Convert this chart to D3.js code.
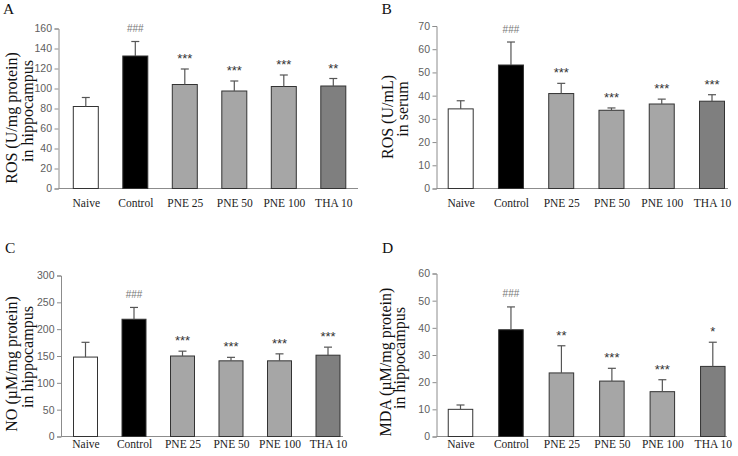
<!DOCTYPE html>
<html><head><meta charset="utf-8">
<script src="https://cdn.jsdelivr.net/npm/d3@7/dist/d3.min.js"></script>
<style>
html,body{margin:0;padding:0;background:#fff;}
svg{display:block;}
</style></head>
<body>
<svg id="chart" width="738" height="456"></svg>
<script>
// ---------- data ----------
const categories = ["Naive", "Control", "PNE 25", "PNE 50", "PNE 100", "THA 10"];
const barColors = ["#ffffff", "#000000", "#a6a6a6", "#a6a6a6", "#a6a6a6", "#7f7f7f"];

const rosHippoMean = [82, 132.5, 104, 97.5, 102, 102.5];
const rosHippoErr  = [9, 14.5, 15.5, 10, 11.5, 7.5];
const rosHippoSig  = ["", "###", "***", "***", "***", "**"];
const rosHippoTicks = [0, 20, 40, 60, 80, 100, 120, 140, 160];

const rosSerumMean = [34.3, 53.2, 40.9, 33.7, 36.4, 37.6];
const rosSerumErr  = [3.5, 9.9, 4.4, 1.0, 2.1, 2.8];
const rosSerumSig  = ["", "###", "***", "***", "***", "***"];
const rosSerumTicks = [0, 10, 20, 30, 40, 50, 60, 70];

const noMean = [148, 218.5, 150, 141, 141, 151.5];
const noErr  = [27.5, 22, 9, 6.5, 13, 15];
const noSig  = ["", "###", "***", "***", "***", "***"];
const noTicks = [0, 50, 100, 150, 200, 250, 300];

const mdaMean = [10, 39.3, 23.4, 20.4, 16.5, 25.8];
const mdaErr  = [1.6, 8.4, 10, 4.7, 4.4, 8.9];
const mdaSig  = ["", "###", "**", "***", "***", "*"];
const mdaTicks = [0, 10, 20, 30, 40, 50, 60];

// ---------- layout (positions only) ----------
const panels = [
  {letter:"A", lx:3, ly:13.5, mean:rosHippoMean, err:rosHippoErr, sig:rosHippoSig, ticks:rosHippoTicks,
   title:["ROS (U/mg protein)", "in hippocampus"], tx:[17, 32.5], tc:[118, 111],
   ax0:58.5, ax1:358, y0:188.5, y1:28.5, c0:85.8, c1:333.3, bw:25, xl:207},
  {letter:"B", lx:381.5, ly:13.5, mean:rosSerumMean, err:rosSerumErr, sig:rosSerumSig, ticks:rosSerumTicks,
   title:["ROS (U/mL)", "in serum"], tx:[393, 408], tc:[117, 109],
   ax0:436.5, ax1:728, y0:188.5, y1:26, c0:460.7, c1:712, bw:25, xl:207},
  {letter:"C", lx:5, ly:253, mean:noMean, err:noErr, sig:noSig, ticks:noTicks,
   title:["NO (\u00b5M/mg protein)", "in hippocampus"], tx:[17, 32.5], tc:[364, 357],
   ax0:61, ax1:343, y0:436.5, y1:275.5, c0:85.5, c1:328, bw:24, xl:447.5},
  {letter:"D", lx:382, ly:253, mean:mdaMean, err:mdaErr, sig:mdaSig, ticks:mdaTicks,
   title:["MDA (\u00b5M/mg protein)", "in hippocampus"], tx:[391, 405], tc:[362, 358],
   ax0:436.5, ax1:727, y0:436.5, y1:273.5, c0:460.5, c1:712.8, bw:24.5, xl:447.5}
];

const svg = d3.select("#chart");
const axisColor = "#8c8c8c";
const serif = "'Liberation Serif','Times New Roman',serif";
const sans = "'Liberation Sans',Arial,sans-serif";

panels.forEach(p => {
  const g = svg.append("g");
  const y = d3.scaleLinear().domain([0, d3.max(p.ticks)]).range([p.y0, p.y1]);
  const x = d3.scalePoint().domain(categories).range([p.c0, p.c1]);

  // panel letter
  g.append("text").attr("x", p.lx).attr("y", p.ly).text(p.letter)
    .attr("font-family", serif).attr("font-size", 15.5).attr("fill", "#111");

  // y axis
  const yAxis = d3.axisLeft(y).tickValues(p.ticks).tickSize(4).tickPadding(2.5).tickFormat(d3.format("d"));
  const ya = g.append("g").attr("transform", `translate(${p.ax0},0)`).call(yAxis);
  ya.select(".domain").attr("stroke", axisColor);
  ya.selectAll(".tick line").attr("stroke", axisColor);
  ya.selectAll(".tick text").attr("fill", "#606060").attr("font-family", sans).attr("font-size", 10.5);

  // x axis baseline + category labels
  const xa = d3.axisBottom(x).tickSize(0).tickPadding(0);
  const xg = g.append("g").attr("transform", `translate(0,${p.y0})`).call(xa);
  xg.select(".domain").remove();
  g.append("line").attr("x1", p.ax0).attr("x2", p.ax1).attr("y1", p.y0).attr("y2", p.y0)
    .attr("stroke", axisColor);
  xg.selectAll(".tick text").attr("y", p.xl - p.y0).attr("dy", 0)
    .attr("fill", "#222").attr("font-family", serif).attr("font-size", 11.5);

  // bars
  g.selectAll("rect.bar").data(categories).join("rect").attr("class", "bar")
    .attr("x", d => x(d) - p.bw / 2)
    .attr("width", p.bw)
    .attr("y", (d, i) => y(p.mean[i]))
    .attr("height", (d, i) => y(0) - y(p.mean[i]))
    .attr("fill", (d, i) => barColors[i])
    .attr("stroke", "#333").attr("stroke-width", 1);

  // error bars (upper only)
  const eg = g.selectAll("g.err").data(categories).join("g").attr("class", "err");
  eg.append("line")
    .attr("x1", d => x(d)).attr("x2", d => x(d))
    .attr("y1", (d, i) => y(p.mean[i]))
    .attr("y2", (d, i) => y(p.mean[i] + p.err[i]))
    .attr("stroke", "#555").attr("stroke-width", 1.2);
  eg.append("line")
    .attr("x1", d => x(d) - 4).attr("x2", d => x(d) + 4)
    .attr("y1", (d, i) => y(p.mean[i] + p.err[i]))
    .attr("y2", (d, i) => y(p.mean[i] + p.err[i]))
    .attr("stroke", "#555").attr("stroke-width", 1.2);

  // significance marks
  g.selectAll("text.sig").data(categories).join("text").attr("class", "sig")
    .attr("x", d => x(d))
    .attr("y", (d, i) => y(p.mean[i] + p.err[i]) - (p.sig[i].startsWith("#") ? 9.5 : 6))
    .attr("text-anchor", "middle")
    .attr("font-family", sans).attr("font-size", (d, i) => p.sig[i].startsWith("#") ? 10 : 13)
    .attr("fill", (d, i) => p.sig[i].startsWith("#") ? "#777" : "#333")
    .text((d, i) => p.sig[i]);

  // y title (two lines, rotated; tx = baseline position)
  p.title.forEach((t, k) => {
    g.append("text")
      .attr("transform", `translate(${p.tx[k]},${p.tc[k]}) rotate(-90)`)
      .attr("text-anchor", "middle")
      .attr("font-family", serif).attr("font-size", 16).attr("fill", "#111")
      .text(t);
  });
});
</script>
</body></html>
